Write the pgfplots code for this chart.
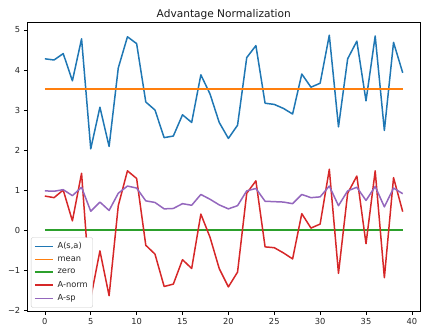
\documentclass[border=0pt]{standalone}
\usepackage{pgfplots}
\pgfplotsset{compat=1.18}
\usepackage{fontspec}
\setmainfont{DejaVu Sans}
\usetikzlibrary{calc}
\definecolor{c0}{HTML}{1F77B4}
\definecolor{c1}{HTML}{FF7F0E}
\definecolor{c2}{HTML}{2CA02C}
\definecolor{c3}{HTML}{D62728}
\definecolor{c4}{HTML}{9467BD}
\begin{document}
\begin{tikzpicture}
\begin{axis}[
  set layers,
  width=394pt, height=290pt, scale only axis,
  xmin=-1.95, xmax=40.95, ymin=-2.04, ymax=5.2,
  xtick={0,5,...,40},
  ytick={-2,-1,0,1,2,3,4,5},
  yticklabels={−2,−1,0,1,2,3,4,5},
  tick align=outside, tick pos=left, major tick length=3.2pt,
  tick style={line width=0.55pt, black},
  axis line style={line width=0.55pt, black},
  ticklabel style={font=\fontsize{8.3}{10}\selectfont, text=black!85},
  /pgf/number format/assume math mode=true,
  title={Advantage Normalization},
  title style={at={(0.5,1)}, anchor=base, yshift=-1.2pt, font=\fontsize{10.6}{12}\selectfont, text=black!90},
  every axis plot/.append style={line width=1.5pt, line join=round, mark=none},
  legend cell align=left,
  legend image code/.code={\draw[#1, line width=1.5pt] (0pt,0pt) -- (18pt,0pt);},
  legend style={at={(0.01,0.014)}, anchor=south west,
    font=\fontsize{8.3}{10}\selectfont, draw=black!20, rounded corners=2pt,
    fill=white, row sep=2.2pt, column sep=2pt,
    inner xsep=3pt, inner ysep=3pt, text=black!85},
]
\addplot[c0] coordinates {
(0,4.28) (1,4.25) (2,4.41) (3,3.73) (4,4.78) (5,2.03) (6,3.07) (7,2.09) (8,4.05) (9,4.83)
(10,4.66) (11,3.20) (12,3.00) (13,2.31) (14,2.35) (15,2.88) (16,2.69) (17,3.88) (18,3.40) (19,2.69)
(20,2.29) (21,2.62) (22,4.31) (23,4.61) (24,3.17) (25,3.14) (26,3.04) (27,2.90) (28,3.90) (29,3.57)
(30,3.67) (31,4.87) (32,2.58) (33,4.28) (34,4.72) (35,3.23) (36,4.85) (37,2.49) (38,4.69) (39,3.93)};
\addlegendentry{A(s,a)}
\addplot[c1] coordinates {(0,3.53) (39,3.53)};
\addlegendentry{mean}
\addplot[c2] coordinates {(0,0) (39,0)};
\addlegendentry{zero}
\addplot[c3] coordinates {
(0,0.85) (1,0.81) (2,1.00) (3,0.23) (4,1.42) (5,-1.70) (6,-0.52) (7,-1.64) (8,0.61) (9,1.48)
(10,1.29) (11,-0.38) (12,-0.60) (13,-1.41) (14,-1.35) (15,-0.74) (16,-0.96) (17,0.40) (18,-0.18) (19,-0.96)
(20,-1.42) (21,-1.05) (22,0.92) (23,1.23) (24,-0.42) (25,-0.44) (26,-0.57) (27,-0.72) (28,0.41) (29,0.05)
(30,0.15) (31,1.52) (32,-1.08) (33,0.92) (34,1.35) (35,-0.34) (36,1.48) (37,-1.19) (38,1.31) (39,0.46)};
\addlegendentry{A-norm}
\addplot[c4] coordinates {
(0,0.98) (1,0.97) (2,1.01) (3,0.86) (4,1.07) (5,0.47) (6,0.70) (7,0.49) (8,0.92) (9,1.10)
(10,1.05) (11,0.73) (12,0.69) (13,0.53) (14,0.54) (15,0.66) (16,0.62) (17,0.89) (18,0.77) (19,0.63)
(20,0.53) (21,0.61) (22,0.98) (23,1.04) (24,0.72) (25,0.71) (26,0.70) (27,0.66) (28,0.89) (29,0.81)
(30,0.83) (31,1.10) (32,0.61) (33,0.98) (34,1.07) (35,0.74) (36,1.09) (37,0.58) (38,1.05) (39,0.91)};
\addlegendentry{A-sp}
\end{axis}
\pgfresetboundingbox
\path ($(current axis.south west)+(-27pt,-16pt)$) rectangle ($(current axis.north east)+(0.4pt,22pt)$);
\end{tikzpicture}
\end{document}
